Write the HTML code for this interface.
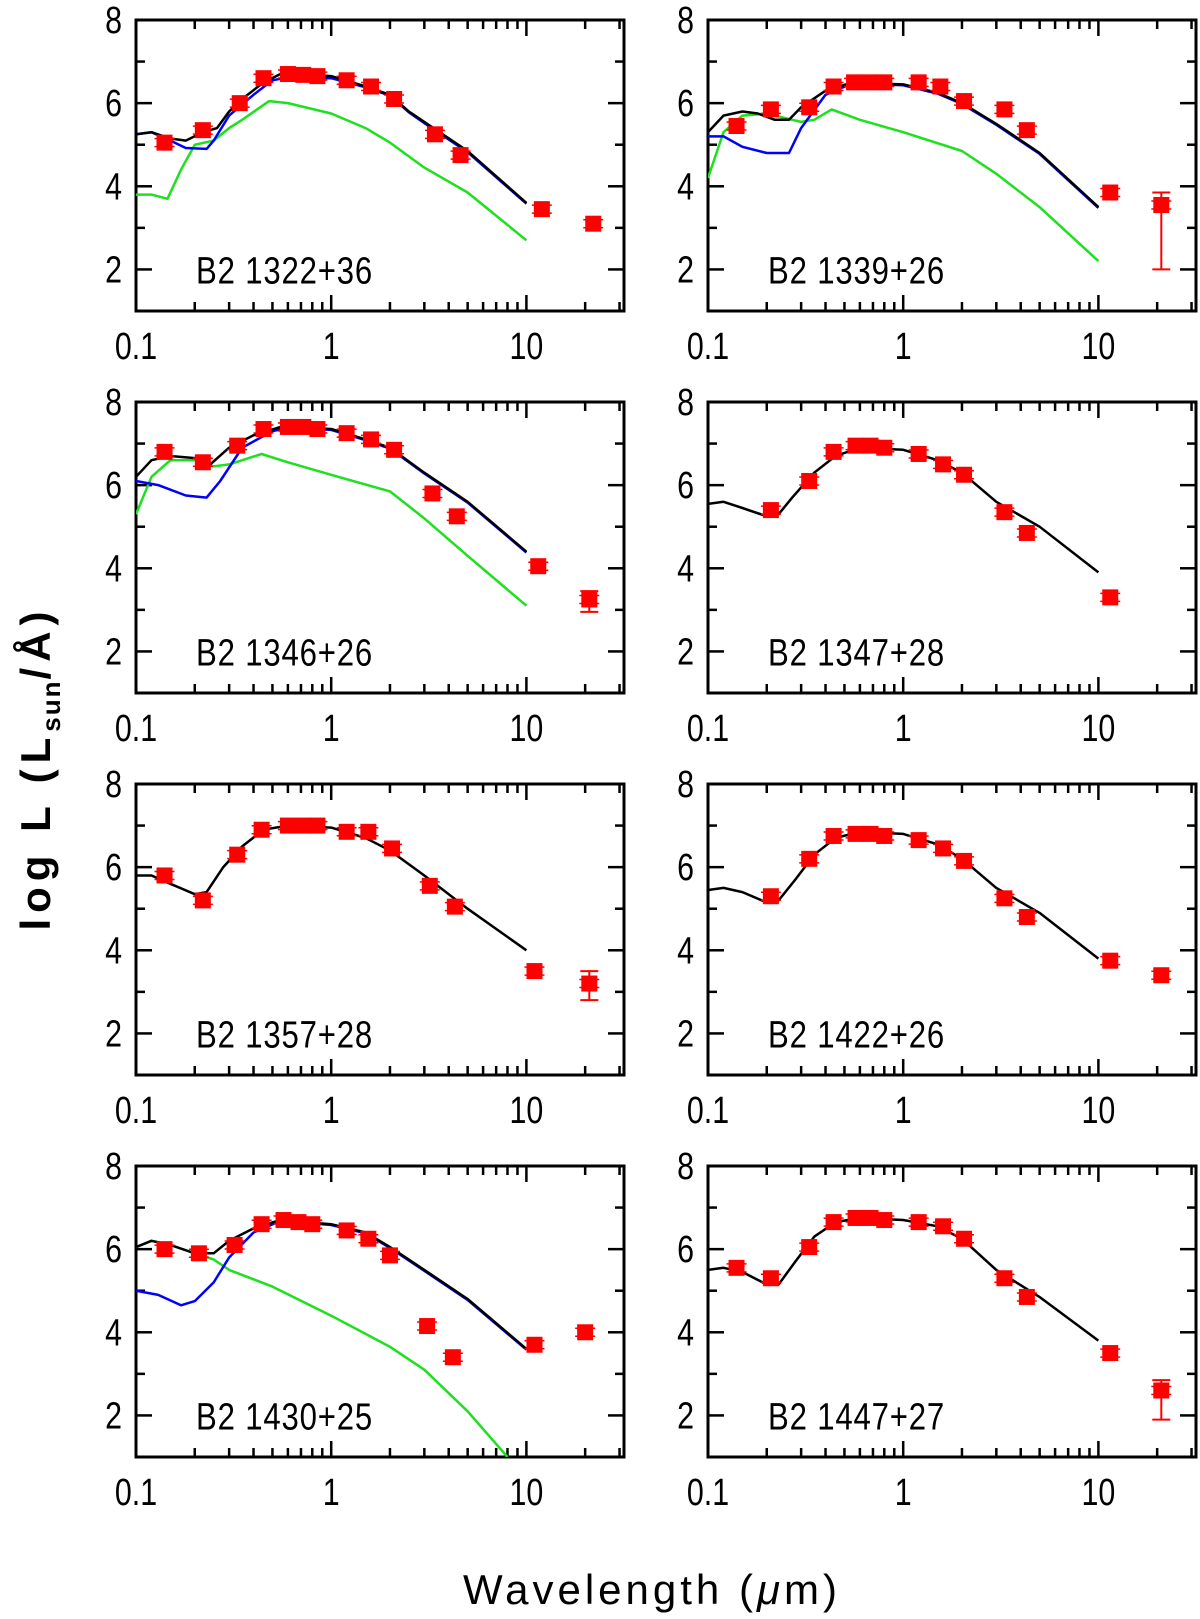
<!DOCTYPE html>
<html><head><meta charset="utf-8">
<style>
body{margin:0;background:#fff;}
svg{display:block;}
text{font-family:"Liberation Sans",sans-serif;}
</style></head>
<body>
<svg id="chart" width="1200" height="1619" viewBox="0 0 1200 1619" xmlns="http://www.w3.org/2000/svg">
<text transform="translate(50,768) rotate(-90)" text-anchor="middle" font-size="42" font-family="Liberation Serif, serif" font-weight="bold" letter-spacing="6">log L (L<tspan font-size="26" dy="10" letter-spacing="2">sun</tspan><tspan dy="-10">/Å)</tspan></text>
<text x="652" y="1604" text-anchor="middle" font-size="42" font-family="Liberation Serif, serif" letter-spacing="4">Wavelength (<tspan font-style="italic">μ</tspan>m)</text>
</svg>
<script>
const panelNames = ["B2 1322+36","B2 1339+26","B2 1346+26","B2 1347+28","B2 1357+28","B2 1422+26","B2 1430+25","B2 1447+27"];
// data points: [wavelength um, logL]
const points1 = [[0.14,5.05],[0.22,5.35],[0.34,6.0],[0.45,6.6],[0.6,6.7],[0.72,6.68],[0.85,6.65],[1.2,6.55],[1.6,6.4],[2.1,6.1],[3.4,5.25],[4.6,4.75],[12,3.45],[22,3.1]];
const points2 = [[0.14,5.45],[0.21,5.85],[0.33,5.9],[0.44,6.4],[0.56,6.5],[0.67,6.5],[0.8,6.5],[1.2,6.5],[1.55,6.4],[2.05,6.05],[3.3,5.85],[4.3,5.35],[11.5,3.85],[21,3.55]];
const points3 = [[0.14,6.8],[0.22,6.55],[0.33,6.95],[0.45,7.35],[0.6,7.4],[0.72,7.4],[0.85,7.35],[1.2,7.25],[1.6,7.1],[2.1,6.85],[3.3,5.8],[4.4,5.25],[11.5,4.05],[21,3.25]];
const points4 = [[0.21,5.4],[0.33,6.1],[0.44,6.8],[0.57,6.95],[0.68,6.95],[0.8,6.9],[1.2,6.75],[1.6,6.5],[2.05,6.25],[3.3,5.35],[4.3,4.85],[11.5,3.3]];
const points5 = [[0.14,5.8],[0.22,5.2],[0.33,6.3],[0.44,6.9],[0.6,7.0],[0.72,7.0],[0.85,7.0],[1.2,6.85],[1.55,6.85],[2.05,6.45],[3.2,5.55],[4.3,5.05],[11,3.5],[21,3.2]];
const points6 = [[0.21,5.3],[0.33,6.2],[0.44,6.75],[0.57,6.8],[0.68,6.8],[0.8,6.75],[1.2,6.65],[1.6,6.45],[2.05,6.15],[3.3,5.25],[4.3,4.8],[11.5,3.75],[21,3.4]];
const points7 = [[0.14,6.0],[0.21,5.9],[0.32,6.1],[0.44,6.6],[0.57,6.7],[0.68,6.65],[0.8,6.6],[1.2,6.45],[1.55,6.25],[2.0,5.85],[3.1,4.15],[4.2,3.4],[11,3.7],[20,4.0]];
const points8 = [[0.14,5.55],[0.21,5.3],[0.33,6.05],[0.44,6.65],[0.57,6.75],[0.68,6.75],[0.8,6.7],[1.2,6.65],[1.6,6.55],[2.05,6.25],[3.3,5.3],[4.3,4.85],[11.5,3.5],[21,2.6]];
// big error bars [panel index, wavelength, low, high]
const bigErrors = [[1,21,2.0,3.85],[2,21,2.95,3.45],[4,21,2.8,3.5],[7,21,1.9,2.85]];
// model curves
const black1 = [[0.1,5.25],[0.12,5.3],[0.15,5.15],[0.18,5.1],[0.22,5.3],[0.26,5.4],[0.3,5.8],[0.35,6.1],[0.45,6.5],[0.55,6.7],[0.7,6.7],[1,6.65],[1.5,6.4],[2,6.2],[2.5,5.8],[3,5.55],[5,4.85],[10,3.6]];
const blue1 = [[0.1,5.25],[0.12,5.3],[0.15,5.1],[0.18,4.92],[0.23,4.9],[0.25,5.1],[0.3,5.7],[0.4,6.2],[0.5,6.55],[0.6,6.62],[1,6.6],[1.5,6.38],[2,6.18],[2.5,5.78],[3,5.52],[5,4.82],[10,3.58]];
const green1 = [[0.1,3.8],[0.12,3.8],[0.145,3.7],[0.17,4.4],[0.2,5.0],[0.25,5.1],[0.3,5.4],[0.35,5.6],[0.48,6.05],[0.6,6.0],[1,5.75],[1.5,5.4],[2,5.05],[3,4.45],[5,3.85],[10,2.7]];
const black2 = [[0.1,5.3],[0.12,5.7],[0.15,5.8],[0.18,5.75],[0.22,5.6],[0.26,5.6],[0.3,5.9],[0.4,6.3],[0.55,6.5],[1,6.45],[1.5,6.25],[2,6.0],[3,5.5],[5,4.8],[10,3.5]];
const blue2 = [[0.1,5.2],[0.12,5.2],[0.15,4.95],[0.2,4.8],[0.26,4.8],[0.3,5.4],[0.4,6.2],[0.55,6.48],[1,6.43],[1.5,6.23],[2,5.98],[3,5.48],[5,4.78],[10,3.48]];
const green2 = [[0.1,4.2],[0.12,5.3],[0.15,5.7],[0.2,5.75],[0.27,5.6],[0.3,5.55],[0.35,5.6],[0.43,5.85],[0.6,5.6],[1,5.3],[2,4.85],[3,4.3],[5,3.5],[10,2.2]];
const black3 = [[0.1,6.2],[0.12,6.6],[0.15,6.7],[0.2,6.65],[0.24,6.5],[0.3,6.9],[0.4,7.2],[0.55,7.4],[1,7.35],[1.5,7.1],[2,6.9],[3,6.3],[5,5.6],[10,4.4]];
const blue3 = [[0.1,6.1],[0.13,6.0],[0.18,5.75],[0.23,5.7],[0.27,6.1],[0.35,6.9],[0.5,7.3],[0.6,7.38],[1,7.33],[1.5,7.08],[2,6.88],[3,6.28],[5,5.58],[10,4.38]];
const green3 = [[0.1,5.3],[0.12,6.2],[0.15,6.6],[0.2,6.6],[0.25,6.45],[0.3,6.5],[0.44,6.75],[0.6,6.55],[1,6.25],[2,5.85],[3,5.2],[5,4.3],[10,3.1]];
const black4 = [[0.1,5.55],[0.12,5.6],[0.15,5.45],[0.2,5.25],[0.23,5.3],[0.27,5.7],[0.35,6.3],[0.45,6.7],[0.6,6.9],[1,6.85],[1.5,6.6],[2,6.3],[3,5.6],[5,5.0],[10,3.9]];
const black5 = [[0.1,5.8],[0.12,5.8],[0.15,5.6],[0.2,5.35],[0.23,5.4],[0.28,6.0],[0.35,6.5],[0.45,6.9],[0.6,7.0],[1,6.95],[1.5,6.7],[2,6.4],[3,5.8],[5,5.0],[10,4.0]];
const black6 = [[0.1,5.45],[0.12,5.5],[0.15,5.4],[0.2,5.15],[0.23,5.2],[0.28,5.7],[0.35,6.3],[0.45,6.7],[0.6,6.85],[1,6.8],[1.5,6.55],[2,6.2],[3,5.5],[5,4.9],[10,3.8]];
const black7 = [[0.1,6.05],[0.12,6.2],[0.15,6.1],[0.2,5.9],[0.25,5.9],[0.3,6.2],[0.4,6.5],[0.55,6.7],[1,6.6],[1.5,6.4],[2,6.05],[3,5.5],[5,4.8],[10,3.6]];
const blue7 = [[0.1,5.0],[0.13,4.9],[0.17,4.65],[0.2,4.75],[0.25,5.2],[0.3,5.8],[0.4,6.4],[0.55,6.68],[1,6.58],[1.5,6.38],[2,6.03],[3,5.48],[5,4.78],[10,3.58]];
const green7 = [[0.1,6.05],[0.12,6.2],[0.15,6.1],[0.2,5.9],[0.25,5.75],[0.3,5.5],[0.5,5.1],[1,4.4],[2,3.65],[3,3.1],[5,2.1],[8,1.0]];
const black8 = [[0.1,5.5],[0.12,5.55],[0.15,5.45],[0.2,5.15],[0.23,5.15],[0.28,5.7],[0.35,6.3],[0.45,6.65],[0.6,6.75],[1,6.7],[1.5,6.55],[2,6.25],[3,5.5],[5,4.85],[10,3.8]];
const xTickLabels = ["0.1","1","10"];
const yTickLabels = ["2","4","6","8"];

const allPoints=[points1,points2,points3,points4,points5,points6,points7,points8];
const allBlack=[black1,black2,black3,black4,black5,black6,black7,black8];
const allBlue=[blue1,blue2,blue3,null,null,null,blue7,null];
const allGreen=[green1,green2,green3,null,null,null,green7,null];

const NS="http://www.w3.org/2000/svg";
const svg=document.getElementById('chart');
function mk(tag,attrs,parent){const e=document.createElementNS(NS,tag);for(const k in attrs)e.setAttribute(k,attrs[k]);(parent||svg).appendChild(e);return e;}
const W=488,H=291,DEC=W/2.5;
for(let p=0;p<8;p++){
  const col=p%2,row=Math.floor(p/2);
  const x0=col?708:136, y0=20+row*382;
  const X=v=>x0+(Math.log10(v)+1)*DEC;
  const Y=v=>y0+(8-v)*(H/7);
  const g=mk('g',{});
  
  
  const clipId='clip'+p;
  const cp=mk('clipPath',{id:clipId},g);mk('rect',{x:x0,y:y0,width:W,height:H},cp);
  for(let d=-1;d<=1;d++)for(let m=1;m<=9;m++){
    const v=m*Math.pow(10,d);if(Math.log10(v)>1.5)continue;
    const x=X(v),len=m===1?16:9;
    mk('line',{x1:x,x2:x,y1:y0+H,y2:y0+H-len,stroke:'#000','stroke-width':2.5},g);
    mk('line',{x1:x,x2:x,y1:y0,y2:y0+len,stroke:'#000','stroke-width':2.5},g);
  }
  for(let v=2;v<=7;v++){
    const y=Y(v),len=v%2===0?16:9;
    mk('line',{x1:x0,x2:x0+len,y1:y,y2:y,stroke:'#000','stroke-width':2.5},g);
    mk('line',{x1:x0+W,x2:x0+W-len,y1:y,y2:y,stroke:'#000','stroke-width':2.5},g);
  }
  const fr=mk('rect',{x:x0,y:y0,width:W,height:H,fill:'none',stroke:'#000','stroke-width':3},g);
  
  
  xTickLabels.forEach(t=>{
    const tx=mk('text',{transform:`translate(${X(parseFloat(t))},${y0+H+48}) scale(0.8,1)`,'text-anchor':'middle','font-size':38},g);
    
    
    tx.textContent=t;
  });
  yTickLabels.forEach(t=>{
    const tx=mk('text',{transform:`translate(${x0-14},${Y(parseFloat(t))+13}) scale(0.8,1)`,'text-anchor':'end','font-size':38},g);
    
    
    tx.textContent=t;
  });
  const lab=mk('text',{transform:`translate(${x0+60},${Y(2)+14}) scale(0.82,1)`,'font-size':38,'letter-spacing':1},g);
  
  
  lab.textContent=panelNames[p];
  const path=(arr,color,name)=>{
    const el=mk('path',{d:arr.map((q,i)=>(i?'L':'M')+X(q[0]).toFixed(1)+' '+Y(q[1]).toFixed(1)).join(''),fill:'none',stroke:color,'stroke-width':2.5,'stroke-linejoin':'round','clip-path':'url(#'+clipId+')'},g);
    
    
  };
  if(allGreen[p])path(allGreen[p],'#1ee01e','host-galaxy-model');
  if(allBlue[p])path(allBlue[p],'#0000ff','stellar-model');
  path(allBlack[p],'#000','total-model');
  allPoints[p].forEach(q=>{
    const cx=X(q[0]),cy=Y(q[1]);
    const r=mk('rect',{x:cx-8,y:cy-8,width:16,height:16,fill:'#f00'},g);
    
    
    mk('line',{x1:cx-10,x2:cx+10,y1:cy-4,y2:cy-4,stroke:'#f00','stroke-width':1.5},g);
    mk('line',{x1:cx-10,x2:cx+10,y1:cy+4,y2:cy+4,stroke:'#f00','stroke-width':1.5},g);
  });
  bigErrors.filter(e=>e[0]===p).forEach(e=>{
    const cx=X(e[1]);
    const eb=mk('path',{d:`M${cx} ${Y(e[2])}V${Y(e[3])}M${cx-9} ${Y(e[2])}H${cx+9}M${cx-9} ${Y(e[3])}H${cx+9}`,stroke:'#f00','stroke-width':2,fill:'none'},g);
    
    
  });
}
</script>
</body></html>
